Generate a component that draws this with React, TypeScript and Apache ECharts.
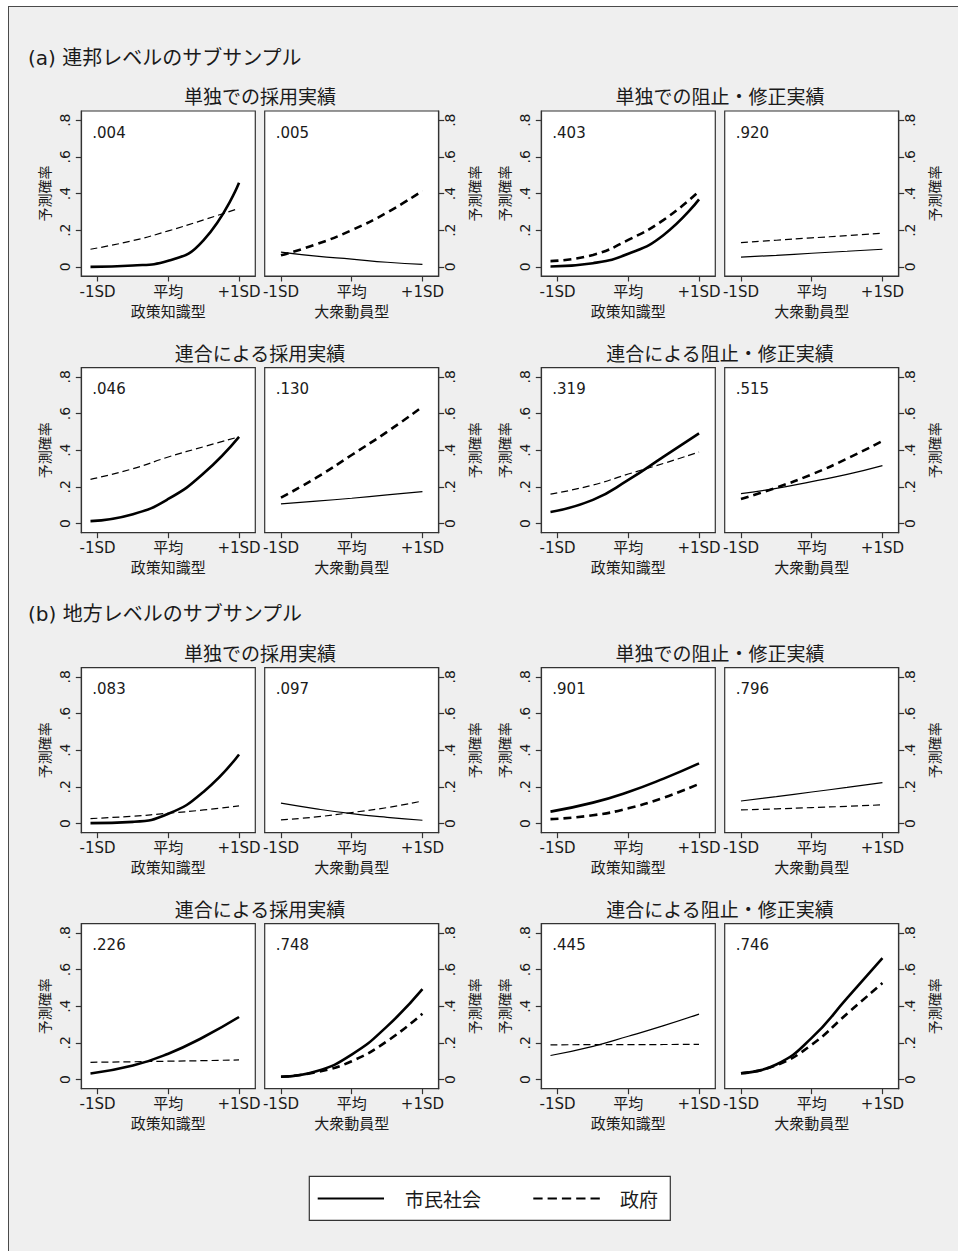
import React, { useEffect, useRef } from 'react';
import * as echarts from 'echarts';

// ---------- axes / labels ----------
const xPolicy = [-1.1, -0.5, 0, 0.5, 1]; // 政策知識型 (curves begin slightly left of -1SD)
const xMobil = [-1, -0.5, 0, 0.5, 1]; // 大衆動員型
const xTicks = [-1, 0, 1];
const xTickLabels = ['-1SD', '平均', '+1SD'];
const yTicks = [0, 0.2, 0.4, 0.6, 0.8];
const xNames = ['政策知識型', '大衆動員型'];
const yName = '予測確率';
const sectionTitles = ['(a) 連邦レベルのサブサンプル', '(b) 地方レベルのサブサンプル'];
const panelTitles = ['単独での採用実績', '単独での阻止・修正実績', '連合による採用実績', '連合による阻止・修正実績'];
const legendNames = ['市民社会', '政府'];

// p-values shown in each panel (row-major: adopt-solo policy, mobil, block-solo policy, mobil, ...)
const fedPValues = ['.004', '.005', '.403', '.920', '.046', '.130', '.319', '.515'];
const localPValues = ['.083', '.097', '.901', '.796', '.226', '.748', '.445', '.746'];

// ---------- (a) federal ----------
const fedSoloAdoptPolicyCivil = [0.0, 0.007, 0.033, 0.146, 0.459];
const fedSoloAdoptPolicyGov = [0.096, 0.143, 0.196, 0.256, 0.319];
const fedSoloAdoptMobilCivil = [0.08, 0.058, 0.042, 0.025, 0.013];
const fedSoloAdoptMobilGov = [0.063, 0.123, 0.2, 0.296, 0.415];
const fedSoloBlockPolicyCivil = [0.002, 0.02, 0.071, 0.174, 0.368];
const fedSoloBlockPolicyGov = [0.031, 0.065, 0.147, 0.256, 0.412];
const fedSoloBlockMobilCivil = [0.053, 0.063, 0.074, 0.085, 0.096];
const fedSoloBlockMobilGov = [0.132, 0.145, 0.158, 0.17, 0.183];
const fedCoalAdoptPolicyCivil = [0.013, 0.051, 0.134, 0.274, 0.473];
const fedCoalAdoptPolicyGov = [0.241, 0.299, 0.363, 0.419, 0.473];
const fedCoalAdoptMobilCivil = [0.107, 0.122, 0.138, 0.156, 0.174];
const fedCoalAdoptMobilGov = [0.141, 0.25, 0.374, 0.5, 0.637];
const fedCoalBlockPolicyCivil = [0.063, 0.129, 0.238, 0.365, 0.492];
const fedCoalBlockPolicyGov = [0.16, 0.21, 0.27, 0.328, 0.39];
const fedCoalBlockMobilCivil = [0.163, 0.192, 0.229, 0.268, 0.316];
const fedCoalBlockMobilGov = [0.134, 0.196, 0.268, 0.354, 0.45];

// ---------- (b) local ----------
const locSoloAdoptPolicyCivil = [0.002, 0.009, 0.053, 0.174, 0.377];
const locSoloAdoptPolicyGov = [0.027, 0.04, 0.056, 0.074, 0.096];
const locSoloAdoptMobilCivil = [0.111, 0.08, 0.054, 0.034, 0.018];
const locSoloAdoptMobilGov = [0.02, 0.036, 0.06, 0.087, 0.123];
const locSoloBlockPolicyCivil = [0.065, 0.114, 0.172, 0.245, 0.328];
const locSoloBlockPolicyGov = [0.024, 0.045, 0.083, 0.141, 0.216];
const locSoloBlockMobilCivil = [0.123, 0.147, 0.172, 0.197, 0.223];
const locSoloBlockMobilGov = [0.074, 0.08, 0.087, 0.094, 0.102];
const locCoalAdoptPolicyCivil = [0.033, 0.076, 0.141, 0.232, 0.341];
const locCoalAdoptPolicyGov = [0.094, 0.097, 0.1, 0.103, 0.107];
const locCoalAdoptMobilCivil = [0.015, 0.045, 0.136, 0.29, 0.493];
const locCoalAdoptMobilGov = [0.015, 0.04, 0.1, 0.209, 0.359];
const locCoalBlockPolicyCivil = [0.131, 0.181, 0.236, 0.294, 0.357];
const locCoalBlockPolicyGov = [0.189, 0.19, 0.19, 0.191, 0.192];
const locCoalBlockMobilCivil = [0.034, 0.082, 0.227, 0.444, 0.662];
const locCoalBlockMobilGov = [0.034, 0.078, 0.19, 0.359, 0.526];

// bold = significant (thick line) flags, [civil, gov]
const fedBold = [
  [true, false], [false, true], [true, true], [false, false],
  [true, false], [false, true], [true, false], [false, true],
];
const locBold = [
  [true, false], [false, false], [true, true], [false, false],
  [true, false], [true, true], [false, false], [true, true],
];

const fedSeries = [
  [fedSoloAdoptPolicyCivil, fedSoloAdoptPolicyGov],
  [fedSoloAdoptMobilCivil, fedSoloAdoptMobilGov],
  [fedSoloBlockPolicyCivil, fedSoloBlockPolicyGov],
  [fedSoloBlockMobilCivil, fedSoloBlockMobilGov],
  [fedCoalAdoptPolicyCivil, fedCoalAdoptPolicyGov],
  [fedCoalAdoptMobilCivil, fedCoalAdoptMobilGov],
  [fedCoalBlockPolicyCivil, fedCoalBlockPolicyGov],
  [fedCoalBlockMobilCivil, fedCoalBlockMobilGov],
];
const locSeries = [
  [locSoloAdoptPolicyCivil, locSoloAdoptPolicyGov],
  [locSoloAdoptMobilCivil, locSoloAdoptMobilGov],
  [locSoloBlockPolicyCivil, locSoloBlockPolicyGov],
  [locSoloBlockMobilCivil, locSoloBlockMobilGov],
  [locCoalAdoptPolicyCivil, locCoalAdoptPolicyGov],
  [locCoalAdoptMobilCivil, locCoalAdoptMobilGov],
  [locCoalBlockPolicyCivil, locCoalBlockPolicyGov],
  [locCoalBlockMobilCivil, locCoalBlockMobilGov],
];

// ---------- layout ----------
const W = 958;
const H = 1251;
const colLefts = [81.3, 264.7, 541.3, 724.7];
const rowTops = [111, 367.7, 667.7, 923.7];
const PW = 174;
const PH = 165;
const FONT = "'DejaVu Sans', 'Noto Sans CJK JP', sans-serif";
const TXT = '#1a1a1a';
const AX = '#333';

function buildOption() {
  const grid: any[] = [];
  const xAxis: any[] = [];
  const yAxis: any[] = [];
  const series: any[] = [];
  const graphic: any[] = [];

  const allSeries = [...fedSeries, ...locSeries];
  const allBold = [...fedBold, ...locBold];
  const allP = [...fedPValues, ...localPValues];

  allSeries.forEach((pair, k) => {
    const row = Math.floor(k / 4);
    const col = k % 4;
    const side = col % 2; // 0 policy (left axis), 1 mobil (right axis)
    const left = colLefts[col];
    const top = rowTops[row];
    const xs = side === 0 ? xPolicy : xMobil;

    grid.push({
      left, top, width: PW, height: PH, show: true,
      backgroundColor: '#fff', borderColor: AX, borderWidth: 1.2,
    });
    xAxis.push({
      type: 'value', gridIndex: k, min: -1.23, max: 1.23, position: 'bottom',
      axisLine: { show: true, onZero: false, lineStyle: { color: AX, width: 1.2 } },
      axisTick: { show: true, length: 5.5, customValues: xTicks, lineStyle: { color: AX, width: 1.2 } },
      axisLabel: {
        customValues: xTicks, margin: 8, fontSize: 15, color: TXT, fontFamily: FONT,
        formatter: (v: number) => xTickLabels[xTicks.indexOf(Math.round(v))] ?? '',
      },
      splitLine: { show: false },
      name: xNames[side], nameLocation: 'middle', nameGap: 28,
      nameTextStyle: { fontSize: 15, color: TXT, fontFamily: FONT },
    });
    yAxis.push({
      type: 'value', gridIndex: k, min: -0.05, max: 0.85,
      position: side === 0 ? 'left' : 'right',
      axisLine: { show: true, onZero: false, lineStyle: { color: AX, width: 1.2 } },
      axisTick: { show: true, length: 5.5, customValues: yTicks, lineStyle: { color: AX, width: 1.2 } },
      axisLabel: {
        customValues: yTicks, rotate: 90, margin: side === 0 ? 9 : 4.5,
        fontSize: 14, color: TXT, fontFamily: FONT,
        formatter: (v: number) => (Math.abs(v) < 1e-9 ? '0' : String(Math.round(v * 10) / 10).replace(/^0\./, '.')),
      },
      splitLine: { show: false },
      name: yName, nameLocation: 'middle', nameGap: 29.5,
      nameTextStyle: { fontSize: 14, color: TXT, fontFamily: FONT },
    });

    [0, 1].forEach((s) => {
      const ys = pair[s];
      const bold = allBold[k][s];
      series.push({
        type: 'line', name: legendNames[s], xAxisIndex: k, yAxisIndex: k,
        data: xs.map((x, i) => [x, ys[i]]),
        symbol: 'none', smooth: 0.5, silent: true,
        lineStyle: {
          color: '#000',
          width: bold ? 2.6 : 1.2,
          type: s === 0 ? 'solid' : bold ? [8, 5] : [7, 4],
        },
      });
    });

    graphic.push({
      type: 'text', x: left + 11, y: top + 21.7,
      style: { text: allP[k], fontSize: 15, fontFamily: FONT, fill: TXT, textAlign: 'left', textVerticalAlign: 'middle' },
    });
  });

  // panel titles
  rowTops.forEach((top, r) => {
    [0, 1].forEach((g) => {
      const cx = (colLefts[g * 2] + colLefts[g * 2 + 1] + PW) / 2;
      graphic.push({
        type: 'text', x: cx, y: top - 14,
        style: { text: panelTitles[(r % 2) * 2 + g], fontSize: 19, fontFamily: FONT, fill: TXT, textAlign: 'center', textVerticalAlign: 'middle' },
      });
    });
  });

  // section titles
  [58.3, 613.5].forEach((y, i) => {
    graphic.push({
      type: 'text', x: 28, y,
      style: { text: sectionTitles[i], fontSize: 20, fontFamily: FONT, fill: TXT, textAlign: 'left', textVerticalAlign: 'middle' },
    });
  });

  // legend box
  const ly = 1198.5;
  graphic.push({
    type: 'rect', shape: { x: 309.3, y: 1176.3, width: 361, height: 44 },
    style: { fill: '#fff', stroke: AX, lineWidth: 1.2 },
  });
  graphic.push({
    type: 'line', shape: { x1: 317.7, y1: ly, x2: 384, y2: ly },
    style: { stroke: '#000', lineWidth: 2 },
  });
  graphic.push({
    type: 'text', x: 405, y: ly + 1.5,
    style: { text: legendNames[0], fontSize: 19, fontFamily: FONT, fill: TXT, textAlign: 'left', textVerticalAlign: 'middle' },
  });
  graphic.push({
    type: 'line', shape: { x1: 533.3, y1: ly, x2: 600, y2: ly },
    style: { stroke: '#000', lineWidth: 2, lineDash: [9.3, 5] },
  });
  graphic.push({
    type: 'text', x: 620, y: ly + 1.5,
    style: { text: legendNames[1], fontSize: 19, fontFamily: FONT, fill: TXT, textAlign: 'left', textVerticalAlign: 'middle' },
  });

  return { animation: false, grid, xAxis, yAxis, series, graphic };
}

export default function App() {
  const ref = useRef<HTMLDivElement>(null);
  useEffect(() => {
    if (!ref.current) return;
    const chart = echarts.init(ref.current, undefined, { renderer: 'svg', width: W, height: H });
    chart.setOption(buildOption() as any);
    return () => chart.dispose();
  }, []);
  return (
    <div style={{ position: 'absolute', left: 0, top: 0, width: W, height: H, background: '#fff', overflow: 'hidden' }}>
      <div
        style={{
          position: 'absolute', left: 8, top: 6, width: W, height: H,
          background: '#efefef', borderLeft: '1.5px solid #4a4a4a', borderTop: '1.5px solid #4a4a4a',
        }}
      />
      <div ref={ref} style={{ position: 'absolute', left: 0, top: 0, width: W, height: H }} />
    </div>
  );
}
